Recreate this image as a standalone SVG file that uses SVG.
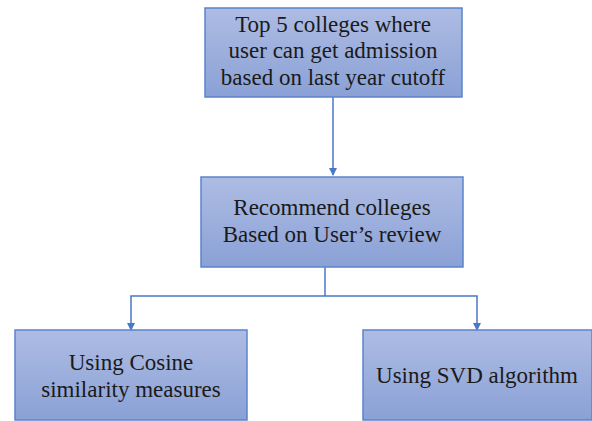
<svg xmlns="http://www.w3.org/2000/svg" width="592" height="421" viewBox="0 0 592 421">
<defs>
<linearGradient id="g" x1="0" y1="0" x2="0" y2="1">
<stop offset="0" stop-color="#aebce3"/>
<stop offset="1" stop-color="#8aa1d6"/>
</linearGradient>
<marker id="arr" markerWidth="8" markerHeight="8" refX="7" refY="4" orient="auto" markerUnits="userSpaceOnUse">
<path d="M0,0 L8,4 L0,8 z" fill="#4a78c8"/>
</marker>
</defs>
<style>
.box{fill:url(#g);stroke:#5a84cc;stroke-width:1.5}
.t{font-family:'Liberation Serif','DejaVu Serif',serif;font-size:23px;fill:#1a1a1a;text-anchor:middle}
.c{fill:none;stroke:#4a78c8;stroke-width:1.5}
</style>
<g id="connectors">
<path class="c" d="M333,97 V175" marker-end="url(#arr)"/>
<path class="c" d="M325,267 V296"/>
<path class="c" d="M325,296 H131 V330" marker-end="url(#arr)"/>
<path class="c" d="M325,296 H477 V330" marker-end="url(#arr)"/>
</g>
<g id="n1">
<rect class="box" x="205" y="8" width="257" height="89"/>
<text class="t" x="333" y="32">Top 5 colleges where</text>
<text class="t" x="333" y="58">user can get admission</text>
<text class="t" x="333" y="85">based on last year cutoff</text>
</g>
<g id="n2">
<rect class="box" x="201" y="177" width="262" height="90"/>
<text class="t" x="332" y="215">Recommend colleges</text>
<text class="t" x="332" y="242">Based on User’s review</text>
</g>
<g id="n3">
<rect class="box" x="15" y="330" width="232" height="90"/>
<text class="t" x="131" y="370">Using Cosine</text>
<text class="t" x="131" y="397">similarity measures</text>
</g>
<g id="n4">
<rect class="box" x="363" y="330" width="229" height="90"/>
<text class="t" x="477" y="383">Using SVD algorithm</text>
</g>
</svg>
